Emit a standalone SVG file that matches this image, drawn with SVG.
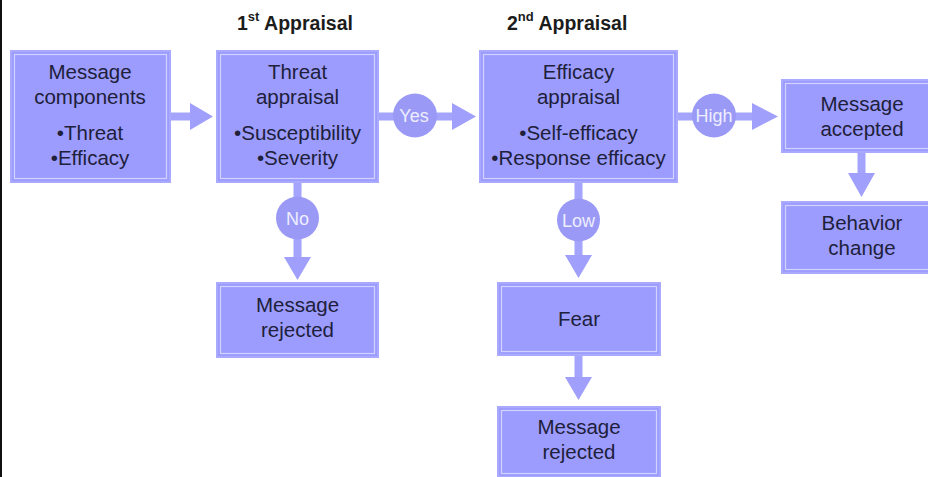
<svg xmlns="http://www.w3.org/2000/svg" width="928" height="477" viewBox="0 0 928 477">
<style>
.box{fill:#9c9cfe;stroke:#a9a9ff;stroke-width:2}
.inner{fill:none;stroke:#d2d2ff;stroke-width:1.2}
.t{font-family:"Liberation Sans",Arial,sans-serif;font-size:20.5px;fill:#20203a;text-anchor:middle}
.h{font-family:"Liberation Sans",Arial,sans-serif;font-size:19.5px;font-weight:bold;fill:#1c1c1c}
.c{fill:#9a9af6}
.cl{font-family:"Liberation Sans",Arial,sans-serif;font-size:18px;fill:#eeeeff;text-anchor:middle}
.sh{stroke:#a4a4fc;stroke-width:8;fill:none}
.ah{fill:#a0a0fc}
</style>
<rect x="0" y="0" width="928" height="477" fill="#ffffff"/>
<rect x="0" y="0" width="2" height="477" fill="#111111"/>

<g id="titles">
<text class="h" x="237" y="30">1<tspan font-size="13" dy="-9">st</tspan><tspan dy="9"> Appraisal</tspan></text>
<text class="h" x="507" y="30">2<tspan font-size="13" dy="-9">nd</tspan><tspan dy="9"> Appraisal</tspan></text>
</g>

<g id="connectors">
<path class="sh" d="M170 116.5H192"/>
<polygon class="ah" points="190,103 213,116.5 190,130"/>
<path class="sh" d="M378 116.5H395M435 116.5H454"/>
<polygon class="ah" points="452,103 476,116.5 452,130"/>
<path class="sh" d="M677 116.5H694M734 116.5H754"/>
<polygon class="ah" points="752,103 778,116.5 752,130"/>
<path class="sh" d="M861.5 152V175"/>
<polygon class="ah" points="848,173 875,173 861.5,197"/>
<path class="sh" d="M297.5 182V198M297.5 238V259"/>
<polygon class="ah" points="284,257 311,257 297.5,280"/>
<path class="sh" d="M578.5 182V200M578.5 240V257"/>
<polygon class="ah" points="565,255 592,255 578.5,278"/>
<path class="sh" d="M578.5 355V379"/>
<polygon class="ah" points="565,377 592,377 578.5,400"/>
<circle class="c" cx="415" cy="115.5" r="22"/>
<text class="cl" x="414" y="122">Yes</text>
<circle class="c" cx="714" cy="115.5" r="22"/>
<text class="cl" x="714" y="122">High</text>
<circle class="c" cx="297.5" cy="218" r="21.5"/>
<text class="cl" x="297.5" y="224.5">No</text>
<circle class="c" cx="578.5" cy="220" r="21.5"/>
<text class="cl" x="578.5" y="226.5">Low</text>
</g>

<g id="n-components">
<rect class="box" x="11" y="51" width="159" height="131"/>
<rect class="inner" x="14.5" y="54.5" width="152" height="124"/>
<text class="t" x="90" y="79">Message</text>
<text class="t" x="90" y="104">components</text>
<text class="t" x="90" y="140">•Threat</text>
<text class="t" x="90" y="165">•Efficacy</text>
</g>

<g id="n-threat">
<rect class="box" x="217" y="51" width="161" height="131"/>
<rect class="inner" x="220.5" y="54.5" width="154" height="124"/>
<text class="t" x="297.5" y="79">Threat</text>
<text class="t" x="297.5" y="104">appraisal</text>
<text class="t" x="297.5" y="140">•Susceptibility</text>
<text class="t" x="297.5" y="165">•Severity</text>
</g>

<g id="n-efficacy">
<rect class="box" x="480" y="51" width="197" height="131"/>
<rect class="inner" x="483.5" y="54.5" width="190" height="124"/>
<text class="t" x="578.5" y="79">Efficacy</text>
<text class="t" x="578.5" y="104">appraisal</text>
<text class="t" x="578.5" y="140">•Self-efficacy</text>
<text class="t" x="578.5" y="165">•Response efficacy</text>
</g>

<g id="n-accepted">
<rect class="box" x="782" y="80" width="160" height="72"/>
<rect class="inner" x="785.5" y="83.5" width="153" height="65"/>
<text class="t" x="862" y="111">Message</text>
<text class="t" x="862" y="136">accepted</text>
</g>

<g id="n-behavior">
<rect class="box" x="782" y="202" width="160" height="71"/>
<rect class="inner" x="785.5" y="205.5" width="153" height="64"/>
<text class="t" x="862" y="230">Behavior</text>
<text class="t" x="862" y="255">change</text>
</g>

<g id="n-rejected1">
<rect class="box" x="217" y="283" width="161" height="74"/>
<rect class="inner" x="220.5" y="286.5" width="154" height="67"/>
<text class="t" x="297.5" y="312">Message</text>
<text class="t" x="297.5" y="337">rejected</text>
</g>

<g id="n-fear">
<rect class="box" x="498" y="283" width="162" height="72"/>
<rect class="inner" x="501.5" y="286.5" width="155" height="65"/>
<text class="t" x="579" y="326">Fear</text>
</g>

<g id="n-rejected2">
<rect class="box" x="498" y="407" width="162" height="70"/>
<rect class="inner" x="501.5" y="410.5" width="155" height="63"/>
<text class="t" x="579" y="434">Message</text>
<text class="t" x="579" y="459">rejected</text>
</g>
</svg>
